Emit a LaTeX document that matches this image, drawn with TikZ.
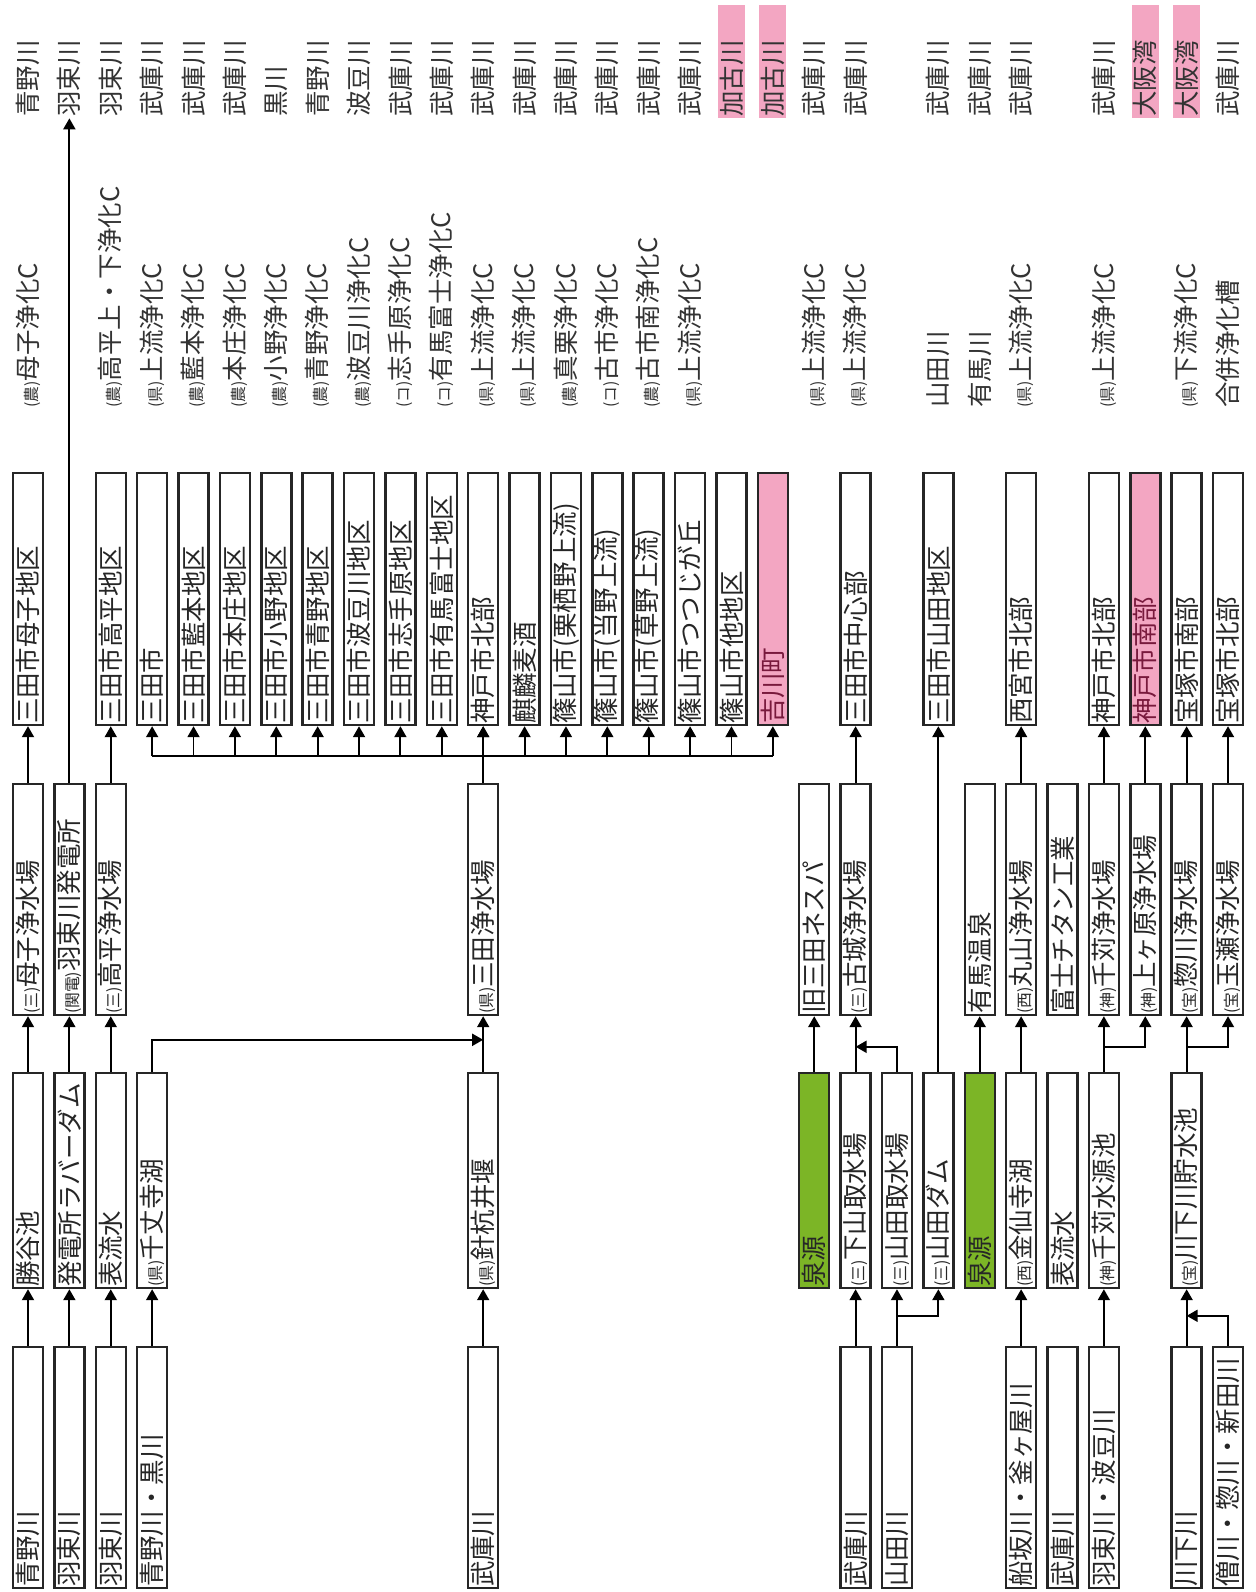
\documentclass[tikz,border=0pt]{standalone}
\usepackage{fontspec}
\setmainfont{Noto Sans CJK JP}
\usetikzlibrary{arrows.meta, calc}
\definecolor{boxpink}{RGB}{243,166,194}
\definecolor{boxgreen}{RGB}{124,181,38}
\definecolor{pinktext}{RGB}{120,25,60}
\newcommand{\vtxt}[2]{\rotatebox{90}{\makebox[#1][l]{#2}}}
\newcommand{\kind}[1]{{\fontsize{9pt}{9pt}\selectfont(#1)}}
\tikzset{
    box/.style={
        draw=black!85, line width=1.4pt, minimum width=0.6cm, inner sep=0pt,
        anchor=center, text=black!85, font=\fontsize{14.5pt}{16pt}\selectfont
    },
    areabox/.style={box, minimum height=5.04cm},
    plantbox/.style={box, minimum height=4.62cm},
    srcbox/.style={box, minimum height=4.3cm},
    riverbox/.style={box, minimum height=4.82cm},
    toplbl/.style={
        inner sep=0pt, minimum width=0.54cm, minimum height=2.26cm,
        text=black!80, font=\fontsize{14.5pt}{16pt}\selectfont
    },
    lbl/.style={
        inner sep=0pt, anchor=south, text=black!80,
        font=\fontsize{14.5pt}{16pt}\selectfont
    },
    arr/.style={-{Triangle[width=0.24cm, length=0.22cm]}, line width=1.1pt},
    wire/.style={line width=1.1pt}
}

\begin{document}
\begin{tikzpicture}[x=0.02cm, y=-0.02cm]
    \useasboundingbox (0,0) rectangle (1255,1592);

    % ======================================
    % 放流先 (一番上)
    % ======================================
    \foreach \c/\t/\f in {0/青野川/white, 1/羽束川/white, 2/羽束川/white,
        3/武庫川/white, 4/武庫川/white, 5/武庫川/white, 6/黒川/white,
        7/青野川/white, 8/波豆川/white, 9/武庫川/white, 10/武庫川/white,
        11/武庫川/white, 12/武庫川/white, 13/武庫川/white, 14/武庫川/white,
        15/武庫川/white, 16/武庫川/white, 17/加古川/boxpink, 18/加古川/boxpink,
        19/武庫川/white, 20/武庫川/white, 22/武庫川/white, 23/武庫川/white,
        24/武庫川/white, 26/武庫川/white, 27/大阪湾/boxpink, 28/大阪湾/boxpink,
        29/武庫川/white}
        \node[toplbl, fill=\f] (t\c) at ({28+41.38*\c}, 61.5) {\vtxt{2.2cm}{\t}};

    % ======================================
    % 処理施設 (ラベル)
    % ======================================
    \foreach \c/\t in {0/\kind{農}母子浄化C, 2/\kind{農}高平上・下浄化C,
        3/\kind{県}上流浄化C, 4/\kind{農}藍本浄化C, 5/\kind{農}本庄浄化C,
        6/\kind{農}小野浄化C, 7/\kind{農}青野浄化C, 8/\kind{農}波豆川浄化C,
        9/\kind{コ}志手原浄化C, 10/\kind{コ}有馬富士浄化C, 11/\kind{県}上流浄化C,
        12/\kind{県}上流浄化C, 13/\kind{農}真栗浄化C, 14/\kind{コ}古市浄化C,
        15/\kind{農}古市南浄化C, 16/\kind{県}上流浄化C, 19/\kind{県}上流浄化C,
        20/\kind{県}上流浄化C, 22/山田川, 23/有馬川, 24/\kind{県}上流浄化C,
        26/\kind{県}上流浄化C, 28/\kind{県}下流浄化C, 29/合併浄化槽}
        \node[lbl] (l\c) at ({28+41.38*\c}, 408) {\rotatebox{90}{\t}};

    % ======================================
    % 給水区域
    % ======================================
    \foreach \c/\t/\f in {0/三田市母子地区/white, 2/三田市高平地区/white,
        3/三田市/white, 4/三田市藍本地区/white, 5/三田市本庄地区/white,
        6/三田市小野地区/white, 7/三田市青野地区/white, 8/三田市波豆川地区/white,
        9/三田市志手原地区/white, 10/三田市有馬富士地区/white, 11/神戸市北部/white,
        12/麒麟麦酒/white, 13/篠山市(栗栖野上流)/white, 14/篠山市(当野上流)/white,
        15/篠山市(草野上流)/white, 16/篠山市つつじが丘/white, 17/篠山市他地区/white,
        18/{\color{pinktext}吉川町}/boxpink, 20/三田市中心部/white,
        22/三田市山田地区/white, 24/西宮市北部/white, 26/神戸市北部/white,
        27/{\color{pinktext}神戸市南部}/boxpink, 28/宝塚市南部/white, 29/宝塚市北部/white}
        \node[areabox, fill=\f] (a\c) at ({28+41.38*\c}, 599) {\vtxt{5.0cm}{\t}};

    % ======================================
    % 浄水場など
    % ======================================
    \foreach \c/\t in {0/\kind{三}母子浄水場, 1/\kind{関電}羽束川発電所,
        2/\kind{三}高平浄水場, 11/\kind{県}三田浄水場, 19/旧三田ネスパ,
        20/\kind{三}古城浄水場, 23/有馬温泉, 24/\kind{西}丸山浄水場,
        25/富士チタン工業, 26/\kind{神}千苅浄水場, 27/\kind{神}上ヶ原浄水場,
        28/\kind{宝}惣川浄水場, 29/\kind{宝}玉瀬浄水場}
        \node[plantbox, fill=white] (p\c) at ({28+41.38*\c}, 899.5) {\vtxt{4.58cm}{\t}};

    % ======================================
    % 水源
    % ======================================
    \foreach \c/\t/\f in {0/勝谷池/white, 1/発電所ラバーダム/white, 2/表流水/white,
        3/\kind{県}千丈寺湖/white, 11/\kind{県}針杭井堰/white, 19/泉源/boxgreen,
        20/\kind{三}下山取水場/white, 21/\kind{三}山田取水場/white,
        22/\kind{三}山田ダム/white, 23/泉源/boxgreen, 24/\kind{西}金仙寺湖/white,
        25/表流水/white, 26/\kind{神}千苅水源池/white, 28/\kind{宝}川下川貯水池/white}
        \node[srcbox, fill=\f] (s\c) at ({28+41.38*\c}, 1180.5) {\vtxt{4.26cm}{\t}};

    % ======================================
    % 河川 (一番下)
    % ======================================
    \foreach \c/\t in {0/青野川, 1/羽束川, 2/羽束川, 3/青野川・黒川, 11/武庫川,
        20/武庫川, 21/山田川, 24/船坂川・釜ヶ屋川, 25/武庫川, 26/羽束川・波豆川,
        28/川下川, 29/僧川・惣川・新田川}
        \node[riverbox, fill=white] (r\c) at ({28+41.38*\c}, 1467.5) {\vtxt{4.78cm}{\t}};

    % 河川 -> 水源
    \foreach \c in {0,1,2,3,11,20,24,26,28}
        \draw[arr] (r\c.north) -- (s\c.south);
    \draw[arr] (r21.north) -- (s21.south);
    \draw[arr] (r21.north) ++(0,-30) -| (s22.south);
    \draw[arr] (r29.north) |- ($(r28.north)+(0,-30)$);

    % 水源 -> 浄水場
    \foreach \c in {0,1,2,11,19,20,23,24}
        \draw[arr] (s\c.north) -- (p\c.south);
    \draw[arr] (s3.north) |- ($(s11.north)+(0,-32)$);
    \draw[arr] (s21.north) |- ($(s20.north)+(0,-25)$);
    \draw[arr] (s22.north) -- (a22.south);
    \draw[arr] (s26.north) -- (p26.south);
    \draw[arr] (s26.north) ++(0,-25) -| (p27.south);
    \draw[arr] (s28.north) -- (p28.south);
    \draw[arr] (s28.north) ++(0,-25) -| (p29.south);

    % 浄水場 -> 給水区域
    \foreach \c in {0,2,11,20,24,26,27,28,29}
        \draw[arr] (p\c.north) -- (a\c.south);
    \draw[arr] (p1.north) -- (t1.south);

    % 三田浄水場からの分岐
    \coordinate (bus) at (0,756);
    \draw[wire] (a3.south |- bus) -- (a18.south |- bus);
    \foreach \c in {3,...,18}
        \draw[arr] (a\c.south |- bus) -- (a\c.south);

\end{tikzpicture}
\end{document}
